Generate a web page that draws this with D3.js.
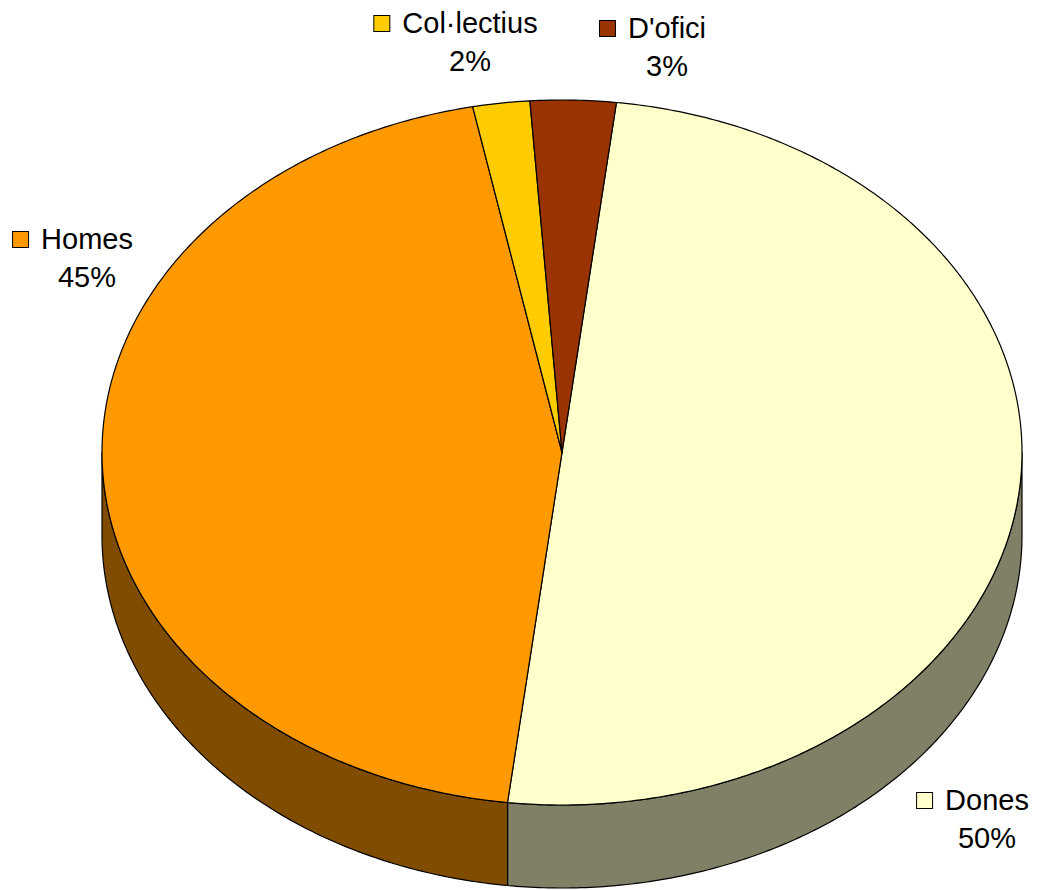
<!DOCTYPE html>
<html>
<head>
<meta charset="utf-8">
<script src="https://cdn.jsdelivr.net/npm/d3@7"></script>
<style>
  html, body { margin: 0; padding: 0; background: #fff; }
  svg { display: block; }
  text { font-family: "Liberation Sans", Arial, sans-serif; font-size: 29px; fill: #000; }
</style>
</head>
<body>
<svg id="chart" width="1040" height="890"></svg>
<script>
// Share of cases by type (percent)
const categories = ["Dones", "Homes", "Col·lectius", "D'ofici"];
const values = [50, 45, 2, 3];
const topColors = ["#FFFFCC", "#FF9900", "#FFCC00", "#993300"];
const sideColors = ["#808066", "#804C00", "#806600", "#4C1A00"];

// Label placement (centre of name text, baseline of name line)
const labelAnchors = {
  "Dones": [987, 810],
  "Homes": [87, 249],
  "Col·lectius": [470, 33],
  "D'ofici": [667, 38]
};

const W = 1040, H = 890;
const cx = 562, cy = 452.5, rx = 460, ry = 352.5, depth = 83;
const startDeg = 6.8;

const svg = d3.select("#chart");

const pie = d3.pie().sort(null)
  .startAngle(startDeg * Math.PI / 180)
  .endAngle((startDeg + 360) * Math.PI / 180);
const arcs = pie(values).map((a, i) => ({ ...a, i }));

// Angles measured clockwise from 12 o'clock, projected on a tilted ellipse
const px = a => cx + rx * Math.sin(a);
const py = (a, dz = 0) => cy - ry * Math.cos(a) + dz;

function ellArc(a0, a1, dz, steps) {
  const pts = [];
  const n = Math.max(2, steps || Math.ceil(Math.abs(a1 - a0) / 0.01));
  for (let k = 0; k <= n; k++) {
    const a = a0 + (a1 - a0) * k / n;
    pts.push([px(a), py(a, dz)]);
  }
  return pts;
}

const line = d3.line();

// Side wall: only the front half (from 3 o'clock through 6 to 9 o'clock) shows
const frontA = Math.PI / 2, frontB = 3 * Math.PI / 2;
const sides = svg.append("g");
arcs.forEach(d => {
  for (const off of [0, 2 * Math.PI, -2 * Math.PI]) {
    const a0 = Math.max(d.startAngle + off, frontA);
    const a1 = Math.min(d.endAngle + off, frontB);
    if (a1 <= a0) continue;
    const top = ellArc(a0, a1, 0);
    const bot = ellArc(a1, a0, depth);
    sides.append("path")
      .attr("d", line(top.concat(bot)) + "Z")
      .attr("fill", sideColors[d.i])
      .attr("stroke", "#000")
      .attr("stroke-width", 1.2)
      .attr("stroke-linejoin", "round");
  }
});

// Top face slices
const tops = svg.append("g");
arcs.forEach(d => {
  const pts = [[cx, cy]].concat(ellArc(d.startAngle, d.endAngle, 0));
  tops.append("path")
    .attr("d", line(pts) + "Z")
    .attr("fill", topColors[d.i])
    .attr("stroke", "#000")
    .attr("stroke-width", 1.2)
    .attr("stroke-linejoin", "round");
});

// Data labels: legend key + category name, percentage below
const labels = svg.append("g");
arcs.forEach(d => {
  const name = categories[d.i];
  const [ax, ay] = labelAnchors[name];
  const g = labels.append("g");
  const t = g.append("text")
    .attr("x", ax).attr("y", ay)
    .attr("text-anchor", "middle")
    .text(name);
  const w = t.node().getComputedTextLength();
  const left = ax - w / 2;
  g.append("rect")
    .attr("x", left - 28.5).attr("y", ay - 17.5)
    .attr("width", 16).attr("height", 16)
    .attr("fill", topColors[d.i])
    .attr("stroke", "#000").attr("stroke-width", 1);
  g.append("text")
    .attr("x", ax).attr("y", ay + 38)
    .attr("text-anchor", "middle")
    .text(values[d.i] + "%");
});
</script>
</body>
</html>
